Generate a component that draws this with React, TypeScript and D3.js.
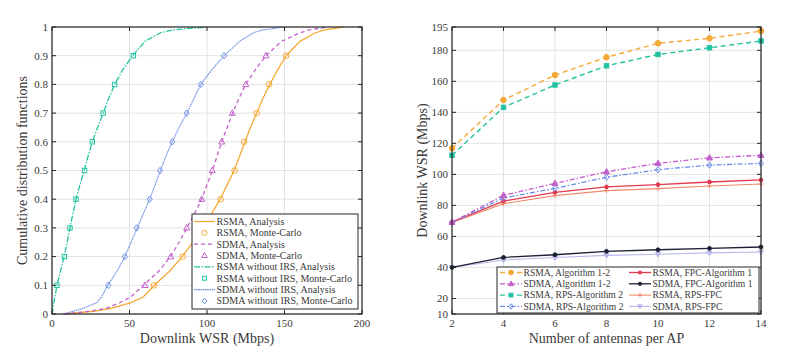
import React from "react";
import * as d3 from "d3";

// ---------- Left panel data (CDF) ----------
const cdfLevels = [0, 0.01, 0.02, 0.04, 0.06, 0.1, 0.15, 0.2, 0.25, 0.3, 0.35, 0.4, 0.45, 0.5, 0.55, 0.6, 0.65, 0.7, 0.75, 0.8, 0.85, 0.9, 0.95, 0.98, 0.99, 1];
const rsmaAnalysis = [8, 28, 38, 51, 59, 66, 76, 84, 91, 97, 103, 108.5, 113, 117.5, 121, 124.5, 128, 132, 136, 140.5, 145.5, 151, 160, 170, 176, 188];
const sdmaAnalysis = [8, 25, 35, 44, 51, 59, 69, 76.5, 82, 87, 92, 96.5, 100, 103.5, 106.5, 109.5, 113, 116.5, 120.5, 125, 131, 138, 148, 160, 166, 178];
const rsmaNoIrsAnalysis = [0, 0.3, 0.6, 1.2, 1.9, 3.2, 5.5, 7.8, 9.8, 11.6, 13.5, 15.5, 18, 20.8, 23.3, 26, 29.5, 33, 36.5, 40.5, 45.5, 52, 60, 70, 78, 100];
const sdmaNoIrsAnalysis = [7, 14, 20, 29, 32, 36, 42, 47, 51, 55, 59, 63, 66.5, 70, 73.5, 77.5, 82, 87, 91.5, 96, 103, 111, 121, 130, 136, 150];

const mcLevels = [0.1, 0.2, 0.3, 0.4, 0.5, 0.6, 0.7, 0.8, 0.9];
const rsmaMC = [65.8, 84.3, 97, 108.8, 117.8, 124, 132, 140, 151];
const sdmaMC = [60, 76.6, 86.9, 96.6, 103.4, 109.5, 116.3, 125, 138];
const rsmaNoIrsMC = [3.2, 8, 11.6, 15.5, 21, 26, 33, 40.4, 52.5];
const sdmaNoIrsMC = [36.3, 47, 54.6, 63, 69.7, 77.6, 86.9, 96, 111];

const leftXTicks = [0, 50, 100, 150, 200];
const leftYTicks = [0, 0.1, 0.2, 0.3, 0.4, 0.5, 0.6, 0.7, 0.8, 0.9, 1];

// ---------- Right panel data ----------
const antennas = [2, 4, 6, 8, 10, 12, 14];
const rsmaAlg12 = [116.8, 147.9, 164, 175.5, 184.5, 187.7, 192.4];
const sdmaAlg12 = [69.2, 86.5, 94.2, 101.7, 107.1, 110.7, 112.3];
const rsmaRpsAlg2 = [112.3, 143.2, 157.6, 170, 177.3, 181.6, 186];
const sdmaRpsAlg2 = [69, 84.8, 91, 98.1, 103, 106, 107.1];
const rsmaFpcAlg1 = [69.2, 82.8, 88.4, 91.9, 93.4, 95.1, 96.4];
const sdmaFpcAlg1 = [40, 46.5, 48.2, 50.4, 51.4, 52.3, 53.2];
const rsmaRpsFpc = [69, 81.1, 86.3, 89.5, 90.8, 92.5, 93.8];
const sdmaRpsFpc = [40, 44.8, 46.4, 47.8, 48.5, 49.4, 50];

const rightXTicks = [2, 4, 6, 8, 10, 12, 14];
const rightYTicks = [10, 20, 40, 60, 80, 100, 120, 140, 160, 180, 195];

const FONT = "'Liberation Serif', 'DejaVu Serif', serif";
const AXIS = "#262626";
const GRID = "#e3e3e3";
const TEXT = "#3a3a3a";

const C = {
  orange: "#f5a936",
  purple: "#c45fcb",
  teal: "#22c3a2",
  blue: "#6d8ee8",
  red: "#e2394f",
  navy: "#1b2033",
  lorange: "#f08a6a",
  lavender: "#b9b8ec",
};

type Marker = "circle" | "triangle" | "square" | "diamond" | "dot" | "plus" | "tridown" | "none";

function MarkerShape({ type, x, y, color, fill, s = 1 }: { type: Marker; x: number; y: number; color: string; fill?: boolean; s?: number }) {
  const f = fill ? color : "none";
  const sw = 1;
  switch (type) {
    case "circle":
      return <circle cx={x} cy={y} r={2.8 * s} fill={f} stroke={color} strokeWidth={sw} />;
    case "dot":
      return <circle cx={x} cy={y} r={1.9 * s} fill={color} stroke={color} strokeWidth={1} />;
    case "triangle":
      return <path d={`M${x},${y - 3.3 * s}L${x + 3 * s},${y + 2.2 * s}L${x - 3 * s},${y + 2.2 * s}Z`} fill={f} stroke={color} strokeWidth={sw} />;
    case "tridown":
      return <path d={`M${x},${y + 2.8 * s}L${x + 2.6 * s},${y - 1.8 * s}L${x - 2.6 * s},${y - 1.8 * s}Z`} fill={f} stroke={color} strokeWidth={1} />;
    case "square":
      return <rect x={x - 2.2 * s} y={y - 2.2 * s} width={4.4 * s} height={4.4 * s} fill={f} stroke={color} strokeWidth={sw} />;
    case "diamond":
      return <path d={`M${x},${y - 3.2 * s}L${x + 2.6 * s},${y}L${x},${y + 3.2 * s}L${x - 2.6 * s},${y}Z`} fill={f} stroke={color} strokeWidth={sw} />;
    case "plus":
      return (
        <g stroke={color} strokeWidth={1}>
          <line x1={x - 2.5 * s} x2={x + 2.5 * s} y1={y} y2={y} />
          <line x1={x} x2={x} y1={y - 2.5 * s} y2={y + 2.5 * s} />
        </g>
      );
    default:
      return null;
  }
}

function Grid({ x0, x1, y0, y1, xs, ys, xScale, yScale }: any) {
  return (
    <g>
      {xs.map((t: number) => (
        <line key={"gx" + t} x1={xScale(t)} x2={xScale(t)} y1={y0} y2={y1} stroke={GRID} strokeWidth={1} />
      ))}
      {ys.map((t: number) => (
        <line key={"gy" + t} x1={x0} x2={x1} y1={yScale(t)} y2={yScale(t)} stroke={GRID} strokeWidth={1} />
      ))}
    </g>
  );
}

function FrameTop({ x0, x1, y0, y1, xs, ys, xScale, yScale, xFmt, yFmt, xLabel, yLabel, yLabelX, xLabelCx }: any) {
  const tl = 4;
  return (
    <g fontFamily={FONT}>
      <rect x={x0} y={y0} width={x1 - x0} height={y1 - y0} fill="none" stroke={AXIS} strokeWidth={1.2} />
      {xs.map((t: number) => (
        <g key={"tx" + t}>
          <line x1={xScale(t)} x2={xScale(t)} y1={y1} y2={y1 - tl} stroke={AXIS} />
          <line x1={xScale(t)} x2={xScale(t)} y1={y0} y2={y0 + tl} stroke={AXIS} />
          <text x={xScale(t)} y={y1 + 13} textAnchor="middle" fontSize={11} fill={TEXT}>
            {xFmt(t)}
          </text>
        </g>
      ))}
      {ys.map((t: number) => (
        <g key={"ty" + t}>
          <line x1={x0} x2={x0 + tl} y1={yScale(t)} y2={yScale(t)} stroke={AXIS} />
          <line x1={x1} x2={x1 - tl} y1={yScale(t)} y2={yScale(t)} stroke={AXIS} />
          <text x={x0 - 4} y={yScale(t) + 3.8} textAnchor="end" fontSize={11} fill={TEXT}>
            {yFmt(t)}
          </text>
        </g>
      ))}
      <text x={xLabelCx} y={y1 + 29} textAnchor="middle" fontSize={14} fill={TEXT}>
        {xLabel}
      </text>
      <text
        transform={`translate(${yLabelX},${(y0 + y1) / 2}) rotate(-90)`}
        textAnchor="middle"
        fontSize={14}
        fill={TEXT}
      >
        {yLabel}
      </text>
    </g>
  );
}

export default function App() {
  // Left panel
  const L = { x0: 52, x1: 362, y0: 27, y1: 314 };
  const lx = d3.scaleLinear().domain([0, 200]).range([L.x0, L.x1]);
  const ly = d3.scaleLinear().domain([0, 1]).range([L.y1, L.y0]);
  const cdfLine = (xsArr: number[]) =>
    d3.line<number>().x((v) => lx(v)).y((_, i) => ly(cdfLevels[i]))(xsArr) || "";

  const leftSeries = [
    { name: "RSMA, Analysis", data: rsmaAnalysis, mc: rsmaMC, color: C.orange, dash: "", w: 1.3, marker: "circle" as Marker },
    { name: "SDMA, Analysis", data: sdmaAnalysis, mc: sdmaMC, color: C.purple, dash: "4,3", w: 1.3, marker: "triangle" as Marker },
    { name: "RSMA without IRS, Analysis", data: rsmaNoIrsAnalysis, mc: rsmaNoIrsMC, color: C.teal, dash: "6,1.5,1.5,1.5", w: 1.3, marker: "square" as Marker },
    { name: "SDMA without IRS, Analysis", data: sdmaNoIrsAnalysis, mc: sdmaNoIrsMC, color: C.blue, dash: "1.6,0.6", w: 1.1, marker: "diamond" as Marker },
  ];
  const leftLegend = [
    { label: "RSMA, Analysis", color: C.orange, dash: "", w: 1.3, marker: "none" as Marker, line: true },
    { label: "RSMA, Monte-Carlo", color: C.orange, dash: "", w: 1, marker: "circle" as Marker, line: false },
    { label: "SDMA, Analysis", color: C.purple, dash: "4,3", w: 1.3, marker: "none" as Marker, line: true },
    { label: "SDMA, Monte-Carlo", color: C.purple, dash: "", w: 1, marker: "triangle" as Marker, line: false },
    { label: "RSMA without IRS, Analysis", color: C.teal, dash: "6,1.5,1.5,1.5", w: 1.3, marker: "none" as Marker, line: true },
    { label: "RSMA without IRS, Monte-Carlo", color: C.teal, dash: "", w: 1, marker: "square" as Marker, line: false },
    { label: "SDMA without IRS, Analysis", color: C.blue, dash: "1.6,0.6", w: 1.1, marker: "none" as Marker, line: true },
    { label: "SDMA without IRS, Monte-Carlo", color: C.blue, dash: "", w: 1, marker: "diamond" as Marker, line: false },
  ];

  // Right panel
  const R = { x0: 452, x1: 761, y0: 27, y1: 314 };
  const rx = d3.scaleLinear().domain([2, 14]).range([R.x0, R.x1]);
  const ry = d3.scaleLinear().domain([10, 195]).range([R.y1, R.y0]);
  const rLine = d3
    .line<number>()
    .x((_, i) => rx(antennas[i]))
    .y((v) => ry(v));

  const rightSeries = [
    { label: "RSMA, Algorithm 1-2", data: rsmaAlg12, color: C.orange, dash: "5,3.5", marker: "circle" as Marker, fill: true, w: 1.4 },
    { label: "SDMA, Algorithm 1-2", data: sdmaAlg12, color: C.purple, dash: "5,2,1.5,2", marker: "triangle" as Marker, fill: true, w: 1.3 },
    { label: "RSMA, RPS-Algorithm 2", data: rsmaRpsAlg2, color: C.teal, dash: "5,3.5", marker: "square" as Marker, fill: true, w: 1.4 },
    { label: "SDMA, RPS-Algorithm 2", data: sdmaRpsAlg2, color: C.blue, dash: "5,2,1.5,2", marker: "diamond" as Marker, fill: false, w: 1.3 },
    { label: "RSMA, FPC-Algorithm 1", data: rsmaFpcAlg1, color: C.red, dash: "", marker: "dot" as Marker, fill: true, w: 1.3 },
    { label: "SDMA, FPC-Algorithm 1", data: sdmaFpcAlg1, color: C.navy, dash: "", marker: "dot" as Marker, fill: true, w: 1.3 },
    { label: "RSMA, RPS-FPC", data: rsmaRpsFpc, color: C.lorange, dash: "", marker: "plus" as Marker, fill: false, w: 1.1 },
    { label: "SDMA, RPS-FPC", data: sdmaRpsFpc, color: C.lavender, dash: "", marker: "tridown" as Marker, fill: true, w: 1.1 },
  ];
  const drawOrder = [7, 6, 5, 4, 3, 1, 2, 0];

  const fmt1 = (t: number) => (t === 0 || t === 1 ? String(t) : t.toFixed(1));
  const fmt0 = (t: number) => String(t);

  const legL = { x: 192, y: 214, w: 166, h: 95, row: 11.35 };
  const legR = { x: 497, y: 267, w: 262, h: 46, row: 11.3 };

  return (
    <svg width={799} height={353} style={{ position: "absolute", left: 0, top: 0, background: "#fff" }}>
      <rect x={0} y={0} width={799} height={353} fill="#fff" />
      {/* LEFT */}
      <Grid {...L} xs={leftXTicks} ys={leftYTicks} xScale={lx} yScale={ly} />
      {leftSeries.map((s) => (
        <path key={s.name} d={cdfLine(s.data)} fill="none" stroke={s.color} strokeWidth={s.w} strokeDasharray={s.dash} />
      ))}
      {leftSeries.map((s) =>
        s.mc.map((v, i) => <MarkerShape key={s.name + i} type={s.marker} x={lx(v)} y={ly(mcLevels[i])} color={s.color} />)
      )}
      <FrameTop
        {...L}
        xs={leftXTicks}
        ys={leftYTicks}
        xScale={lx}
        yScale={ly}
        xFmt={fmt0}
        yFmt={fmt1}
        xLabel="Downlink WSR (Mbps)"
        yLabel="Cumulative distribution functions"
        yLabelX={27}
        xLabelCx={(L.x0 + L.x1) / 2}
      />
      <g fontFamily={FONT}>
        <rect x={legL.x} y={legL.y} width={legL.w} height={legL.h} fill="#fff" stroke={AXIS} strokeWidth={1} />
        {leftLegend.map((e, i) => {
          const cy = legL.y + 7.5 + i * legL.row;
          return (
            <g key={e.label}>
              {e.line && (
                <line x1={legL.x + 2} x2={legL.x + 23} y1={cy} y2={cy} stroke={e.color} strokeWidth={e.w} strokeDasharray={e.dash} />
              )}
              <MarkerShape type={e.marker} x={legL.x + 12.5} y={cy} color={e.color} s={0.9} />
              <text x={legL.x + 24.5} y={cy + 3.3} fontSize={10} fill={TEXT}>
                {e.label}
              </text>
            </g>
          );
        })}
      </g>

      {/* RIGHT */}
      <Grid {...R} xs={rightXTicks} ys={rightYTicks} xScale={rx} yScale={ry} />
      {drawOrder.map((k) => {
        const s = rightSeries[k];
        return (
          <g key={s.label}>
            <path d={rLine(s.data) || ""} fill="none" stroke={s.color} strokeWidth={s.w} strokeDasharray={s.dash} />
            {s.data.map((v, i) => (
              <MarkerShape key={i} type={s.marker} x={rx(antennas[i])} y={ry(v)} color={s.color} fill={s.fill} />
            ))}
          </g>
        );
      })}
      <FrameTop
        {...R}
        xs={rightXTicks}
        ys={rightYTicks}
        xScale={rx}
        yScale={ry}
        xFmt={fmt0}
        yFmt={fmt0}
        xLabel="Number of antennas per AP"
        yLabel="Downlink WSR (Mbps)"
        yLabelX={427}
        xLabelCx={(R.x0 + R.x1) / 2}
      />
      <g fontFamily={FONT}>
        <rect x={legR.x} y={legR.y} width={legR.w} height={legR.h} fill="#fff" stroke={AXIS} strokeWidth={1} />
        {rightSeries.map((s, i) => {
          const col = i < 4 ? 0 : 1;
          const row = i % 4;
          const bx = legR.x + (col === 0 ? 3 : 132);
          const cy = legR.y + 5.5 + row * legR.row;
          return (
            <g key={s.label}>
              <line x1={bx} x2={bx + 22} y1={cy} y2={cy} stroke={s.color} strokeWidth={s.w} strokeDasharray={s.dash} />
              <MarkerShape type={s.marker} x={bx + 11} y={cy} color={s.color} fill={s.fill} s={0.85} />
              <text x={bx + 23.5} y={cy + 3.3} fontSize={9.6} fill={TEXT}>
                {s.label}
              </text>
            </g>
          );
        })}
      </g>
    </svg>
  );
}
